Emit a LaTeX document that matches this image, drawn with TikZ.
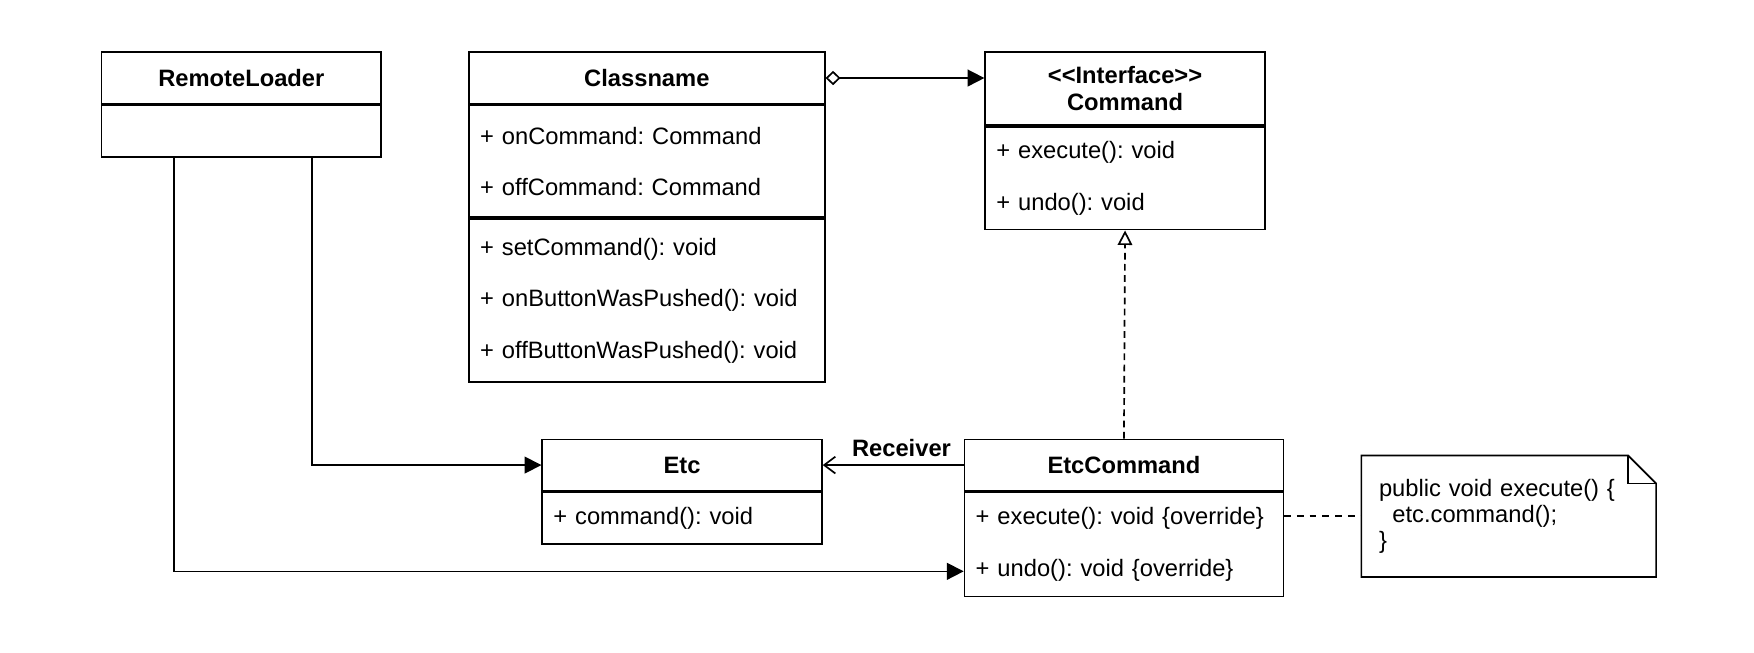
\documentclass[tikz,border=0pt]{standalone}
\usepackage{fontspec}
\setmainfont{Liberation Sans}[Ligatures=TeXOff]
\usepackage{tikz}
\usetikzlibrary{positioning,arrows.meta}
\frenchspacing

\begin{document}
\begin{tikzpicture}[
    x=0.5pt, y=-0.5pt,
    line width=0.75pt,
    head/.style={rectangle, draw, minimum height=23pt, inner sep=0pt, align=center, font=\fontsize{10.6}{12}\selectfont\bfseries},
    members/.style={rectangle, draw, anchor=north, align=left, inner xsep=5pt, inner ysep=0pt, font=\fontsize{10.6}{23}\selectfont},
    memo/.style={rectangle, align=left, inner xsep=7.5pt, text width=116pt, minimum height=53.5pt, font=\fontsize{10.6}{11.5}\selectfont},
    aggr/.style={{Diamond[open,length=6.7pt,width=6.4pt]}-{Triangle[length=7.5pt,width=7.5pt]}},
    assoc/.style={-{Triangle[length=7.5pt,width=7.5pt]}},
    realize/.style={dash pattern=on 3pt off 2pt, -{Triangle[open,length=6.5pt,width=6.5pt]}},
    recv/.style={-{Straight Barb[length=5pt,width=7.5pt]}},
    notelink/.style={dash pattern=on 3pt off 2.7pt}
]
\fill[white] (0,0) rectangle (1568,583);
\useasboundingbox (0,0) rectangle (1568,583);

\node[head, minimum width=125pt, anchor=north west] (rlhead) at (90,46) {RemoteLoader};
\node[members, text width=115pt, minimum height=23pt, below=0pt of rlhead] (rlbody) {};

\node[head, minimum width=159pt, right=38.5pt of rlhead] (clshead) {Classname};
\node[members, text width=149pt, minimum height=50pt, below=0pt of clshead] (clsattrs) {+ onCommand: Command\\+ offCommand: Command\\[-2pt]};
\node[members, text width=149pt, minimum height=73pt, below=0pt of clsattrs] (clsops) {+ setCommand(): void\\+ onButtonWasPushed(): void\\+ offButtonWasPushed(): void};

\node[head, minimum width=125pt, minimum height=32.5pt, right=71pt of clshead.north east, anchor=north west] (cmdhead) {<<Interface>>\\Command};
\node[members, text width=115pt, minimum height=46pt, below=0pt of cmdhead] (cmdops) {+ execute(): void\\+ undo(): void};

\node[head, minimum width=125pt, anchor=north west] (etchead) at (484,392) {Etc};
\node[members, text width=115pt, minimum height=23pt, below=0pt of etchead] (etcops) {+ command(): void};

\node[head, minimum width=142.5pt, right=63pt of etchead] (echead) {EtcCommand};
\node[members, text width=132.5pt, minimum height=46.5pt, below=0pt of echead] (ecops) {+ execute(): void \{override\}\\+ undo(): void \{override\}};

\node[memo, anchor=west] (memo) at (1217,461.5) {public void execute() \{\\\hspace*{6pt}etc.command();\\\}};
\draw (memo.north west) -- ([xshift=-12.5pt]memo.north east) -- ([yshift=-12.5pt]memo.north east) -- (memo.south east) -- (memo.south west) -- cycle;
\draw ([xshift=-12.5pt]memo.north east) |- ([yshift=-12.5pt]memo.north east);

\draw[aggr] (clshead.east) -- (clshead.east -| cmdhead.west);
\draw[realize] (echead.north) -- (cmdops.south);
\draw[recv] (echead.west) -- (etchead.east) node[pos=0, above left, xshift=-2pt, font=\fontsize{10.6}{12}\selectfont\bfseries] {Receiver};
\draw[assoc] ([xshift=31.5pt]rlbody.south) |- (etchead.west);
\draw[assoc] ([xshift=-30pt]rlbody.south) |- ([yshift=-12pt]ecops.west);
\draw[notelink] (ecops.east |- memo.west) -- (memo.west);
\end{tikzpicture}
\end{document}
